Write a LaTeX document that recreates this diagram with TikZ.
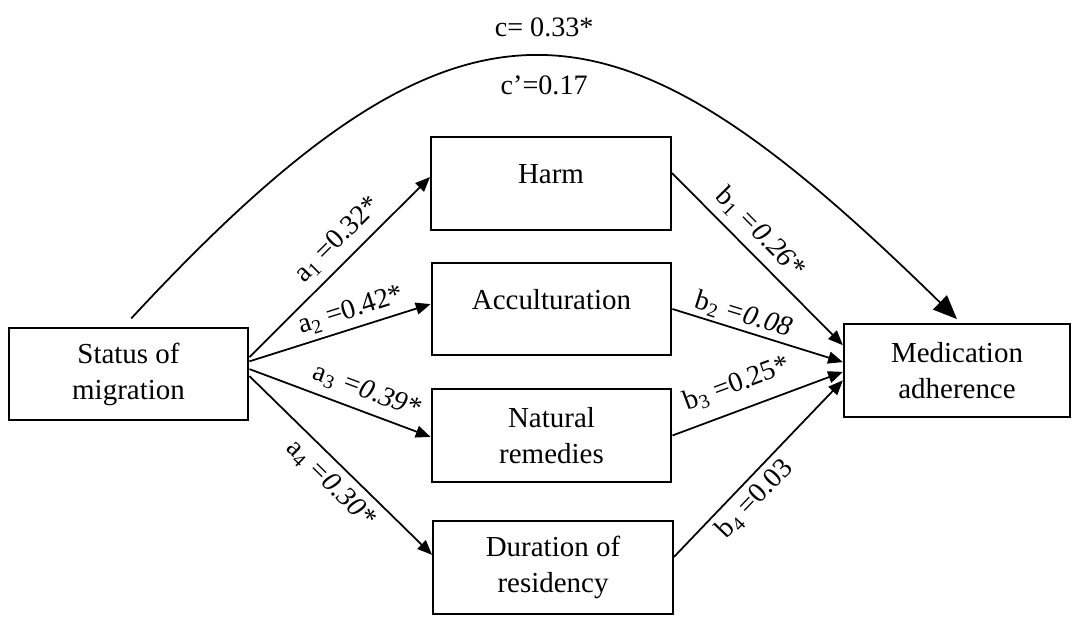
\documentclass[tikz,border=0pt]{standalone}
\usepackage{fontspec}
\setmainfont{Liberation Serif}
\usetikzlibrary{arrows.meta}
\newcommand{\boxW}{170.5pt}
\newcommand{\boxH}{65.6pt}
\newcommand{\coeff}[3]{#1\textsubscript{#2} =#3}
\tikzset{
  var/.style={draw,line width=1.5pt,minimum width=\boxW,minimum height=\boxH,
    inner sep=0pt,align=center,font=\fontsize{20.6}{25.6}\selectfont},
  oneline/.style={text depth=14pt},
  link/.style={line width=1.25pt,-{Triangle[length=10.5pt,width=8.5pt]}},
  coef/.style={sloped,inner sep=1pt,font=\fontsize{20}{24}\selectfont},
  effect/.style={inner sep=1pt,font=\fontsize{20}{24}\selectfont}
}
\begin{document}
\begin{tikzpicture}[x=0.025cm,y=-0.025cm]
\useasboundingbox (0,0) rectangle (1074,617);

%% ---------------- variables ----------------
\node[var] (status) at (128.5,374) {Status of\\migration};
\node[var,oneline] (harm) at (551,183.5) {Harm};
\node[var,oneline] (accult) at (551.5,309) {Acculturation};
\node[var] (natural) at (551.5,435.5) {Natural\\remedies};
\node[var] (duration) at (553,567.5) {Duration of\\residency};
\node[var,minimum width=160.8pt] (adherence) at (957,370.5) {Medication\\adherence};

%% ---------------- direct effect ----------------
\draw[line width=1.25pt,-{Triangle[length=17pt,width=14pt]}]
  ([xshift=2pt,yshift=6pt]status.north) .. controls +(339,-366) and +(-339,-332) .. ([yshift=3pt]adherence.north)
  node[effect,midway,above=13pt] (ctotal) {c= 0.33*}
  node[effect,midway,below=12pt] (cdirect) {c’=0.17};

%% ---------------- a paths ----------------
\draw[link] ([yshift=12pt]status.east) -- node[coef,pos=.57,above=5pt] {\coeff{a}{1}{0.32*}} ([yshift=4.6pt]harm.west);
\draw[link] ([yshift=9pt]status.east) -- node[coef,pos=.59,above=2.8pt] {\coeff{a}{2}{0.42*}} ([yshift=3.5pt]accult.west);
\draw[link] ([yshift=3.5pt]status.east) -- node[coef,pos=.61,above=4.5pt] {a\textsubscript{3} \textit{=0.39*}} ([yshift=-1pt]natural.west);
\draw[link] ([yshift=-1.5pt]status.east) -- node[coef,pos=.52,below=4.5pt] {a\textsubscript{4} \textit{=0.30*}} ([yshift=9pt]duration.west);

%% ---------------- b paths ----------------
\draw[link] ([yshift=7.5pt]harm.east) -- node[coef,pos=.43,above=4.5pt] {b\textsubscript{1} \textit{=0.26*}} ([yshift=18pt]adherence.west);
\draw[link] (accult.east) -- node[coef,pos=.39,above=1pt] {b\textsubscript{2} \textit{=0.08}} ([yshift=6pt]adherence.west);
\draw[link] (natural.east) -- node[coef,pos=.43,above=8pt] {\coeff{b}{3}{0.25*}} ([yshift=-1pt]adherence.west);
\draw[link] ([yshift=7.5pt]duration.east) -- node[coef,pos=.40,below=3pt] {\coeff{b}{4}{0.03}} ([yshift=-7pt]adherence.west);

\end{tikzpicture}
\end{document}
